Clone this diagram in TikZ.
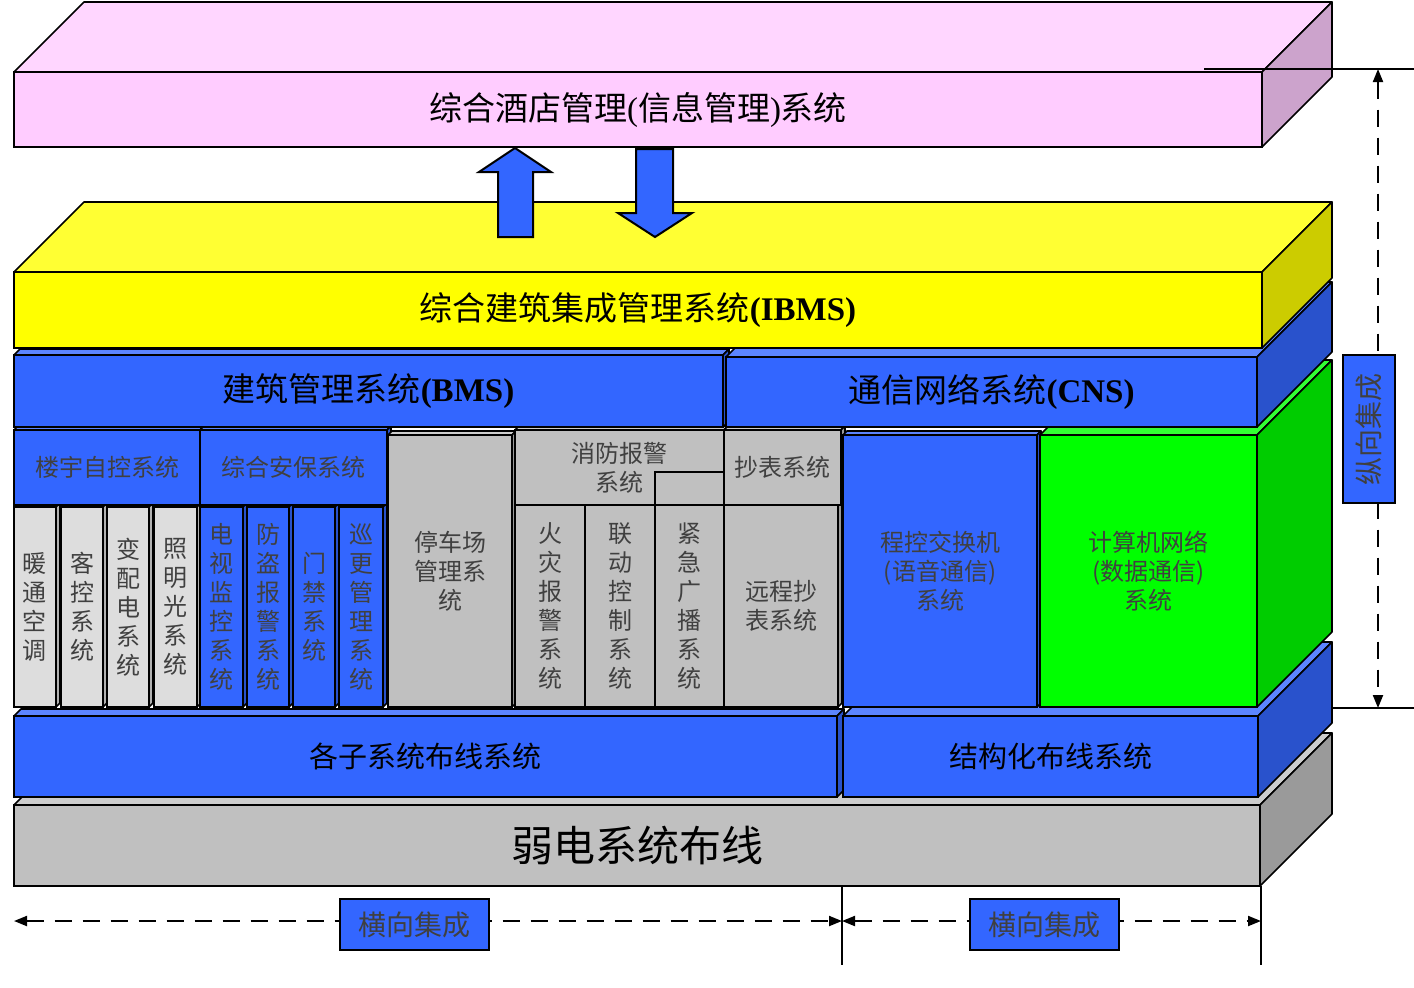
\documentclass[tikz,border=0pt]{standalone}
\usepackage{fontspec}
\setmainfont{Liberation Serif}
\newfontfamily\cjk{Noto Sans CJK SC}
\usepackage{tikz}
\usetikzlibrary{calc,arrows.meta}
\definecolor{hotelPink}{HTML}{FFCCFF}
\definecolor{ibmsYellow}{HTML}{FFFF00}
\definecolor{sysBlue}{HTML}{3366FF}
\definecolor{netGreen}{HTML}{00FF00}
\definecolor{sysGray}{HTML}{C0C0C0}
\definecolor{sysLight}{HTML}{DDDDDD}
\definecolor{labelInk}{HTML}{404040}
\tikzset{
  area/.style args={#1,#2,#3,#4}{at={({(#1+#3)/2},{(#2+#4)/2})},
    minimum width={(#3-#1)*0.5pt},minimum height={(#4-#2)*0.5pt}},
  layerbox/.style={draw=black,line width=1pt,inner sep=0pt,outer sep=0pt,align=center,
    font=\cjk\fontsize{16.5pt}{20pt}\selectfont},
  cablebox/.style={layerbox,font=\cjk\fontsize{14.5pt}{17pt}\selectfont},
  subbox/.style={draw=black,line width=0.8pt,inner sep=0pt,outer sep=0pt,align=center,
    text=labelInk,font=\cjk\fontsize{12pt}{14.5pt}\selectfont},
  facelines/.style={draw=black,line width=0.8pt,line join=round},
  blockarrow/.style={draw=black,line width=1pt,fill=sysBlue,line join=miter},
  dimarrow/.style={{Triangle[length=6.5pt,width=5pt]}-{Triangle[length=6.5pt,width=5pt]},
    line width=1pt,dash pattern=on 8.5pt off 5.5pt},
  dimtag/.style={draw=black,line width=1pt,fill=sysBlue,inner sep=0pt,outer sep=0pt,
    text=labelInk,font=\cjk\fontsize{14pt}{16pt}\selectfont},
  dimtick/.style={line width=0.8pt}
}
% top and right faces of a box node: node, depth, colour
\newcommand{\boxfaces}[3]{%
  \filldraw[facelines,fill=#3!80!white] (#1.north west) -- ++(#2,-#2)
    -- ($(#1.north east)+(#2,-#2)$) -- (#1.north east) -- cycle;
  \filldraw[facelines,fill=#3!80!black] (#1.north east) -- ++(#2,-#2)
    -- ($(#1.south east)+(#2,-#2)$) -- (#1.south east) -- cycle;}
\begin{document}
\begin{tikzpicture}[x=0.5pt,y=-0.5pt]
  \useasboundingbox (0,0) rectangle (1414,987);
  % base layer
  \node[layerbox,fill=sysGray,font=\cjk\fontsize{21pt}{24pt}\selectfont,
    area={14,805,1260,886}] (wiring) {弱电系统布线};
  \boxfaces{wiring}{72}{sysGray}
  % cabling layer
  \node[cablebox,fill=sysBlue,area={14,716,837,797}] (subwiring) {各子系统布线系统};
  \boxfaces{subwiring}{7}{sysBlue}
  \node[cablebox,fill=sysBlue,area={843,716,1258,797}] (gcs) {结构化布线系统};
  \boxfaces{gcs}{74}{sysBlue}
  % subsystems
  \node[subbox,fill=sysLight,area={14,507,56,707}] (hvac) {暖\\通\\空\\调};
  \boxfaces{hvac}{4}{sysLight}
  \node[subbox,fill=sysLight,area={61,507,103,707}] (guestctl) {客\\控\\系\\统};
  \boxfaces{guestctl}{4}{sysLight}
  \node[subbox,fill=sysLight,area={107,507,149,707}] (power) {变\\配\\电\\系\\统};
  \boxfaces{power}{4}{sysLight}
  \node[subbox,fill=sysLight,area={154,507,197,707}] (lighting) {照\\明\\光\\系\\统};
  \boxfaces{lighting}{4}{sysLight}
  \node[subbox,fill=sysBlue,area={200,507,243,707}] (cctv) {电\\视\\监\\控\\系\\统};
  \boxfaces{cctv}{4}{sysBlue}
  \node[subbox,fill=sysBlue,area={247,507,289,707}] (intrusion) {防\\盗\\报\\警\\系\\统};
  \boxfaces{intrusion}{4}{sysBlue}
  \node[subbox,fill=sysBlue,area={293,507,335,707}] (access) {门\\禁\\系\\统};
  \boxfaces{access}{4}{sysBlue}
  \node[subbox,fill=sysBlue,area={339,507,383,707}] (patrol) {巡\\更\\管\\理\\系\\统};
  \boxfaces{patrol}{4}{sysBlue}
  \node[subbox,fill=sysBlue,area={14,430,200,505}] (bas) {楼宇自控系统};
  \boxfaces{bas}{4}{sysBlue}
  \node[subbox,fill=sysBlue,area={200,430,387,505}] (security) {综合安保系统};
  \boxfaces{security}{4}{sysBlue}
  \node[subbox,fill=sysGray,area={388,435,512,707}] (parking) {停车场\\管理系\\统};
  \boxfaces{parking}{4}{sysGray}
  \node[subbox,fill=sysGray,area={515,505,585,707}] (firealarm) {火\\灾\\报\\警\\系\\统};
  \boxfaces{firealarm}{4}{sysGray}
  \node[subbox,fill=sysGray,area={585,505,655,707}] (linkage) {联\\动\\控\\制\\系\\统};
  \boxfaces{linkage}{4}{sysGray}
  \node[subbox,fill=sysGray,area={655,505,724,707}] (broadcast) {紧\\急\\广\\播\\系\\统};
  \boxfaces{broadcast}{4}{sysGray}
  \node[subbox,fill=sysGray,area={724,505,838,707}] (meterread) {远程抄\\表系统};
  \boxfaces{meterread}{4}{sysGray}
  \node[subbox,fill=sysGray,area={515,430,724,505}] (firehead) {消防报警\\系统};
  \boxfaces{firehead}{4}{sysGray}
  \node[subbox,fill=sysGray,area={724,430,841,505}] (meterhead) {抄表系统};
  \boxfaces{meterhead}{4}{sysGray}
  \node[subbox,fill=sysGray,area={655,472,724,505}] (firenotch) {};
  \node[subbox,fill=sysBlue,area={843,435,1037,707}] (pabx) {程控交换机\\(语音通信)\\系统};
  \boxfaces{pabx}{4}{sysBlue}
  \node[subbox,fill=netGreen,area={1040,435,1257,707}] (datanet) {计算机网络\\(数据通信)\\系统};
  \boxfaces{datanet}{75}{netGreen}
  % BMS and CNS
  \node[layerbox,fill=sysBlue,area={14,355,723,427}] (bms)
    {建筑管理系统{\rmfamily\bfseries(BMS)}};
  \boxfaces{bms}{6}{sysBlue}
  \node[layerbox,fill=sysBlue,area={726,357,1257,427}] (cns)
    {通信网络系统{\rmfamily\bfseries(CNS)}};
  \boxfaces{cns}{75}{sysBlue}
  % IBMS and hotel management
  \node[layerbox,fill=ibmsYellow,area={14,272,1262,348}] (ibms)
    {综合建筑集成管理系统{\rmfamily\bfseries(IBMS)}};
  \boxfaces{ibms}{70}{ibmsYellow}
  \node[layerbox,fill=hotelPink,area={14,72,1262,147}] (hotel)
    {综合酒店管理{\rmfamily(}信息管理{\rmfamily)}系统};
  \boxfaces{hotel}{70}{hotelPink}
  % data exchange
  \draw[blockarrow] (498,237) -- (498,172) -- (479,172) -- (515,148) -- (551,172)
    -- (533,172) -- (533,237) -- cycle;
  \draw[blockarrow] (636,149) -- (636,213) -- (618,213) -- (655,237) -- (692,213)
    -- (673,213) -- (673,149) -- cycle;
  % integration spans
  \coordinate (hleft) at (14,921);
  \coordinate (hmid) at (842,921);
  \coordinate (hright) at (1261,921);
  \coordinate (vtop) at (1378,69);
  \coordinate (vbot) at (1378,708);
  \draw[dimtick] (hmid |- wiring.south) -- ++(0,79);
  \draw[dimtick] (hright |- wiring.south) -- ++(0,79);
  \draw[dimtick] (1204,69) -- (1414,69);
  \draw[dimtick] (1332,708) -- (1414,708);
  \draw[dimarrow] (hleft) -- (hmid);
  \draw[dimarrow] (hmid) -- (hright);
  \draw[dimarrow] (vtop) -- (vbot);
  \node[dimtag,area={340,899,489,950}] (hspanleft) {横向集成};
  \node[dimtag,area={970,899,1119,950}] (hspanright) {横向集成};
  \node[dimtag,area={1343,355,1395,503}] (vspan) {};
  \node[text=labelInk,font=\cjk\fontsize{14pt}{16pt}\selectfont,rotate=90] (vspantext)
    at (vspan.center) {纵向集成};
\end{tikzpicture}
\end{document}
